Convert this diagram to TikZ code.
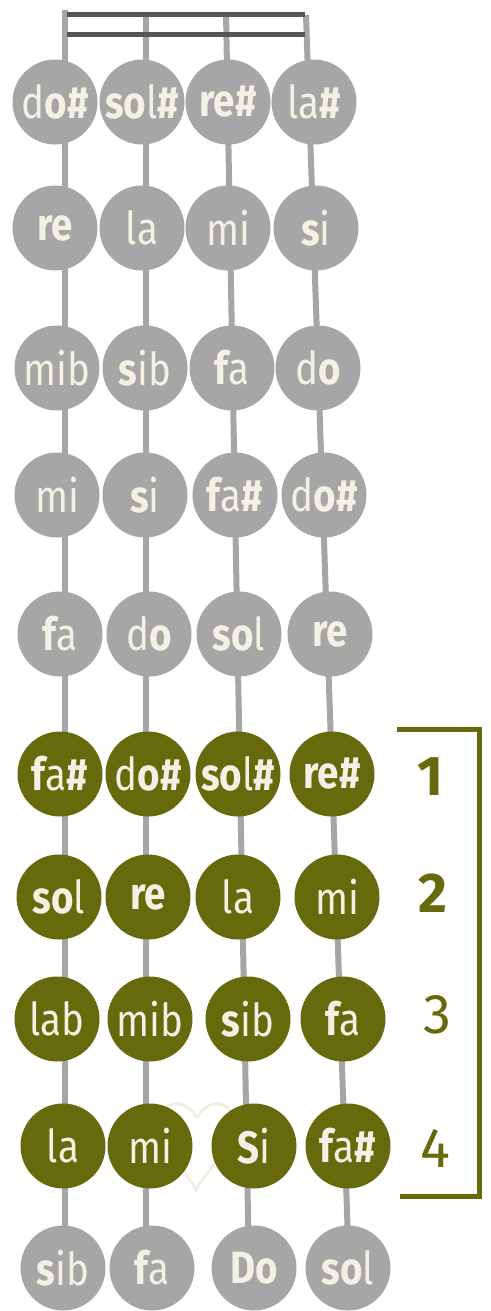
\documentclass[tikz,border=0pt]{standalone}
\usepackage{fontspec}
\setmainfont{Fira Sans}
\newfontfamily\notefont[FakeStretch=0.85]{Fira Sans}
\definecolor{olive}{HTML}{666A0C}
\definecolor{nodegray}{HTML}{A6A6A6}
\definecolor{cream}{HTML}{F4F1E4}
\definecolor{nutgray}{HTML}{555555}
\definecolor{heartc}{HTML}{F0EEDF}
\newcommand\hb[1]{{\bfseries #1}}
\begin{document}
\begin{tikzpicture}[x=0.75pt,y=-0.75pt,
  note/.style={circle,fill=nodegray,minimum size=63.75pt,inner sep=0pt,text=cream,font=\notefont\fontsize{34}{35}\selectfont},
  hot/.style={note,fill=olive},
  stringline/.style={draw=nodegray,line width=4.5pt},
  nutbar/.style={draw=nutgray,line width=4.3pt},
  bracketline/.style={draw=olive,line width=3.75pt},
  fingernum/.style={text=olive,font=\fontsize{42}{44}\selectfont,inner sep=0pt}]
\useasboundingbox (0,0) rectangle (490,1311);
% strings
\coordinate (s1t) at (65,10);  \coordinate (s1b) at (65,1270);
\coordinate (s2t) at (146,13); \coordinate (s2b) at (146,1270);
\coordinate (s3t) at (226,13); \coordinate (s3b) at (249,1270);
\coordinate (s4t) at (306,15); \coordinate (s4b) at (349,1270);
\draw[stringline] (s1t) -- (s1b);
\draw[stringline] (s2t) -- (s2b);
\draw[stringline] (s3t) -- (s3b);
\draw[stringline] (s4t) -- (s4b);
% nut
\coordinate (n1l) at (67,14.5); \coordinate (n1r) at (305,14.5);
\coordinate (n2l) at (67,34.5); \coordinate (n2r) at (305,34.5);
\draw[nutbar] (n1l) -- (n1r);
\draw[nutbar] (n2l) -- (n2r);
% faint heart
\draw[heartc,line width=2pt] (197,1118) .. controls (185,1095) and (155,1100) .. (160,1130)
  .. controls (165,1155) and (190,1175) .. (196,1190)
  .. controls (202,1175) and (228,1155) .. (233,1130)
  .. controls (238,1100) and (208,1095) .. (197,1118);
% row 1
\node[note] (r1a) at (55,102) {d\hb{o\#}};
\node[note] (r1b) at (142,102) {\hb{so}l\hb{\#}};
\node[note] (r1c) at (228,102) {\hb{re\#}};
\node[note] (r1d) at (314,102) {la\hb{\#}};
% row 2
\node[note] (r2a) at (55,228) {\hb{re}};
\node[note] (r2b) at (142,228) {la};
\node[note] (r2c) at (228,228) {mi};
\node[note] (r2d) at (316,228) {\hb{s}i};
% row 3
\node[note] (r3a) at (57,368) {mib};
\node[note] (r3b) at (145,368) {\hb{s}ib};
\node[note] (r3c) at (232,368) {\hb{f}a};
\node[note] (r3d) at (318,368) {d\hb{o}};
% row 4
\node[note] (r4a) at (57,495) {mi};
\node[note] (r4b) at (145,495) {\hb{s}i};
\node[note] (r4c) at (235,495) {\hb{f}a\hb{\#}};
\node[note] (r4d) at (324,495) {d\hb{o\#}};
% row 5
\node[note] (r5a) at (60,634) {\hb{f}a};
\node[note] (r5b) at (149,634) {d\hb{o}};
\node[note] (r5c) at (239,634) {\hb{so}l};
\node[note] (r5d) at (330,634) {\hb{re}};
% row 6
\node[hot] (r6a) at (60,774) {\hb{f}a\hb{\#}};
\node[hot] (r6b) at (148,774) {d\hb{o\#}};
\node[hot] (r6c) at (238,774) {\hb{so}l\hb{\#}};
\node[hot] (r6d) at (332,774) {\hb{re\#}};
% row 7
\node[hot] (r7a) at (59,897) {\hb{so}l};
\node[hot] (r7b) at (148,897) {\hb{re}};
\node[hot] (r7c) at (238,897) {la};
\node[hot] (r7d) at (337,897) {mi};
% row 8
\node[hot] (r8a) at (57,1019) {lab};
\node[hot] (r8b) at (150,1019) {mib};
\node[hot] (r8c) at (248,1019) {\hb{s}ib};
\node[hot] (r8d) at (343,1019) {\hb{f}a};
% row 9
\node[hot] (r9a) at (63,1146) {la};
\node[hot] (r9b) at (150,1146) {mi};
\node[hot] (r9c) at (254,1146) {\hb{S}i};
\node[hot] (r9d) at (348,1146) {\hb{f}a\hb{\#}};
% row 10
\node[note] (r10a) at (63,1268) {\hb{s}ib};
\node[note] (r10b) at (152,1268) {\hb{f}a};
\node[note] (r10c) at (254,1268) {\hb{Do}};
\node[note] (r10d) at (348,1268) {\hb{so}l};
% bracket
\coordinate (bt1) at (397,729.5); \coordinate (bt2) at (479,729.5);
\coordinate (bb1) at (400,1196); \coordinate (bb2) at (479,1196);
\draw[bracketline] (bt1) -- (bt2);
\draw[bracketline] (bb1) -- (bb2);
\draw[bracketline] ([yshift=1.9pt]bt2) -- ([yshift=-1.9pt]bb2);
% finger numbers
\node[fingernum] (f1) at (430,777) {\hb{1}};
\node[fingernum] (f2) at (433,893) {\hb{2}};
\node[fingernum] (f3) at (437,1015) {3};
\node[fingernum] (f4) at (435,1148) {4};
\end{tikzpicture}
\end{document}
